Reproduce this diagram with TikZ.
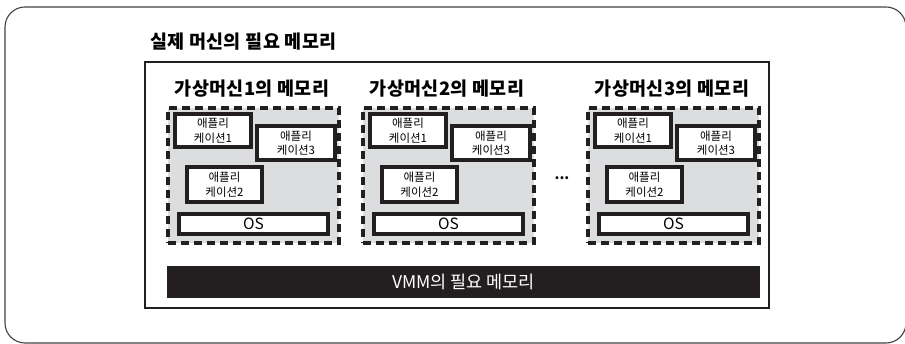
\documentclass[tikz,border=0pt]{standalone}
\usepackage{fontspec}
\setmainfont{Noto Sans CJK KR}
\definecolor{ink}{HTML}{231F20}
\definecolor{vmgray}{HTML}{DCDDDE}
\begin{document}
\begin{tikzpicture}[x=1pt,y=-1pt,
  frame/.style={draw=ink!85, line width=1.1pt, rounded corners=20pt},
  hostbox/.style={draw=ink, line width=2.8pt, fill=white, inner sep=0, outer sep=0, anchor=north west},
  vmbox/.style={draw=ink, line width=3.2pt, dash pattern=on 8pt off 5pt, fill=vmgray,
    inner sep=0, outer sep=0, anchor=north west, minimum width=171pt, minimum height=135pt},
  appbox/.style={draw=ink, line width=3.2pt, fill=white, inner sep=0, outer sep=0,
    anchor=north west, align=center, font=\fontsize{11.5}{14.5}\selectfont},
  osbox/.style={appbox, minimum width=149pt, minimum height=20pt, font=\fontsize{15.5}{16}\selectfont},
  vmlabel/.style={font=\bfseries\fontsize{18.5}{20}\selectfont\addfontfeatures{LetterSpace=2}, inner sep=0},
  titlelabel/.style={font=\bfseries\fontsize{18.5}{20}\selectfont\addfontfeatures{LetterSpace=2}, inner sep=0, anchor=west},
  vmmbar/.style={fill=ink, draw=none, inner sep=0, outer sep=0, anchor=north west,
    minimum width=593pt, minimum height=32pt, text=white, font=\fontsize{17.5}{18}\selectfont}
]
\useasboundingbox (0,0) rectangle (905,344);

% outer rounded frame
\draw[frame] (5,7) rectangle (906,343);

% title
\node[titlelabel] (title) at (150,42) {실제 머신의 필요 메모리};

% physical machine memory
\node[hostbox, minimum width=624pt, minimum height=246pt] (host) at (145,62) {};

% virtual machines
\foreach \vx/\vn in {168/1, 363/2, 588/3} {
  \node[vmbox] (vm\vn) at (\vx,108) {};
  \node[vmlabel] (vmlab\vn) at (\vx+84,89) {가상머신\vn{}의 메모리};
  \node[appbox, minimum width=76pt, minimum height=33pt] (appa\vn) at (\vx+7,114) {애플리\\케이션1};
  \node[appbox, minimum width=78pt, minimum height=34pt] (appc\vn) at (\vx+89,126) {애플리\\케이션3};
  \node[appbox, minimum width=75pt, minimum height=35pt] (appb\vn) at (\vx+19,167) {애플리\\케이션2};
  \node[osbox] (os\vn) at (\vx+11,214) {OS};
}

% ellipsis between the second and third machine
\node[inner sep=0, font=\bfseries\fontsize{14}{14}\selectfont] (dots) at (562,178) {...};

% hypervisor memory
\node[vmmbar] (vmm) at (167,266) {VMM의 필요 메모리};
\end{tikzpicture}
\end{document}
